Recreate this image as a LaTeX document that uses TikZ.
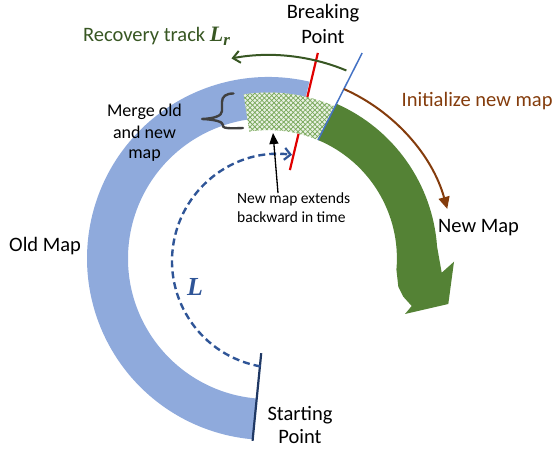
\documentclass[tikz,border=0pt]{standalone}
\usepackage{fontspec}
\setmainfont{Carlito}
\newfontfamily\lfont{Liberation Serif}
\usetikzlibrary{arrows.meta,patterns.meta,calc}

\definecolor{ringblue}{HTML}{8FAADC}
\definecolor{mapgreen}{HTML}{548235}
\definecolor{trackgreen}{HTML}{385723}
\definecolor{initbrown}{HTML}{843C0C}
\definecolor{pathblue}{HTML}{2F5597}
\definecolor{startnavy}{HTML}{1F3864}
\definecolor{breakred}{HTML}{E00000}
\definecolor{edgeblue}{HTML}{4472C4}
\definecolor{hatchgreen}{HTML}{78A85A}
\definecolor{hatchbase}{HTML}{EAF2E4}
\definecolor{bracegray}{HTML}{404040}

\begin{document}
\begin{tikzpicture}[x=1pt,y=1pt,
  lbl/.style={inner sep=0pt, font=\fontsize{20.5}{24}\selectfont},
  mergelbl/.style={inner sep=0pt, anchor=base, font=\fontsize{18}{21}\selectfont},
  smalllbl/.style={inner sep=0pt, anchor=base west, font=\fontsize{15.5}{19}\selectfont},
  marker/.style={line width=2.2pt},
  flow/.style={line width=2pt},
  mergedpart/.style={pattern={Lines[angle=#1,distance=3.4pt,line width=0.75pt]}, pattern color=hatchgreen}]
\useasboundingbox (0,0) rectangle (556,449);

% centres of the map ring and of the trajectory L
\coordinate (C) at (268.5,190.5);
\coordinate (D) at (279,188);

% old map: blue ring from the starting point round to the breaking point
\fill[ringblue] ($(C)+(77:181.5)$) arc[start angle=77,end angle=265,radius=181.5]
  -- ($(C)+(265:140.5)$) arc[start angle=265,end angle=77,radius=140.5] -- cycle;

% breaking point marker
\coordinate (redin) at ($(C)+(76.4:91)$);
\coordinate (redout) at ($(C)+(76.5:211.4)$);
\draw[breakred, marker] (redin) -- (redout);

% merged part (new map extended backward in time)
\def\mergedoutline{($(C)+(67.3:128.4)$) -- ($(C)+(66.4:166)$)
  arc[start angle=66.4,end angle=98.6,radius=166]
  -- ($(C)+(98.6:128.4)$) arc[start angle=98.6,end angle=67.3,radius=128.4] -- cycle}
\path[fill=hatchbase] \mergedoutline;
\path[mergedpart=45] \mergedoutline;
\path[mergedpart=-45] \mergedoutline;

% new map: thick green curved arrow
\fill[mapgreen] ($(C)+(67.3:128.4)$) -- ($(C)+(66.3:169)$)
  arc[start angle=66.3,end angle=4,radius=169]
  -- (441.7,176.3) -- (454,187.3) -- (448.3,145) -- (405,135) -- (411.7,143)
  -- (403.3,152.3) -- (398.3,162.3) -- ($(C)+(-5:128.4)$)
  arc[start angle=-5,end angle=67.3,radius=128.4] -- cycle;

% start of the new map
\coordinate (bluein) at ($(C)+(67.3:128.4)$);
\coordinate (blueout) at ($(C)+(65.5:225.8)$);
\draw[edgeblue, line width=1.5pt] (bluein) -- (blueout);

% starting point marker
\coordinate (navyin) at ($(C)+(265.6:95)$);
\coordinate (navyout) at ($(C)+(265:183)$);
\draw[startnavy, marker] (navyin) -- (navyout);

% trajectory L
\draw[pathblue, line width=2.4pt, dash pattern=on 7pt off 4pt,
  -{Straight Barb[length=6pt,width=12pt,line width=2.2pt]}]
  ($(D)+(260:107)$) arc[start angle=260,end angle=83,radius=107];

% recovery track
\draw[trackgreen, flow, -{Straight Barb[length=7pt,width=12pt]}]
  ($(C)+(67.5:203.5)$) arc[start angle=67.5,end angle=100.5,radius=203.5];

% initialise new map
\draw[initbrown, flow, -{Triangle[length=12pt,width=11pt]}]
  ($(C)+(66:185.5)$) arc[start angle=66,end angle=15.5,radius=185.5];

% brace next to the merge label
\draw[bracegray, line width=2.4pt, line cap=round, line join=round]
  (233.5,355.5) .. controls (226,355.5) and (222,352.5) .. (222,347)
  -- (222,338) .. controls (222,333) and (214,330.5) .. (202,330)
  .. controls (214,329.5) and (223,327.5) .. (223,324)
  -- (223,322.5) .. controls (224,320.5) and (232,320.5) .. (243,321);

% labels
\node[lbl, anchor=base west, text=trackgreen] (rtrack) at (83,407)
  {Recovery track {\lfont\bfseries\itshape\fontsize{22}{22}\selectfont L\raisebox{-4pt}{\fontsize{17}{17}\selectfont r}}};
\node[lbl, anchor=base] (brk1) at (323,430.5) {Breaking};
\node[lbl, anchor=base] (brk2) at (323,405.7) {Point};
\node[lbl, anchor=base west, text=initbrown] (init) at (401.5,342.5) {Initialize new map};
\node[mergelbl] (merge1) at (144.5,332) {Merge old};
\node[mergelbl] (merge2) at (144.5,310.5) {and new};
\node[mergelbl] (merge3) at (144.5,290) {map};
\node[lbl, anchor=base west] (oldmap) at (9,197) {Old Map};
\node[lbl, anchor=base west] (newmap) at (438,216) {New Map};
\node[smalllbl] (ext1) at (237,245) {New map extends};
\node[smalllbl] (ext2) at (237,226) {backward in time};
\node[lbl, anchor=base] (start1) at (300,28.3) {Starting};
\node[lbl, anchor=base] (start2) at (300,5.7) {Point};
\node[inner sep=0pt, anchor=base, text=pathblue,
  font=\lfont\bfseries\itshape\fontsize{26}{26}\selectfont] (lpath) at (195,153) {L};

% pointer from the label to the merged part
\coordinate (blkto) at (273,316);
\draw[black, line width=1.3pt, -{Triangle[length=11pt,width=9pt]}]
  (ext1.north -| 278,0) -- (blkto);
\end{tikzpicture}
\end{document}
